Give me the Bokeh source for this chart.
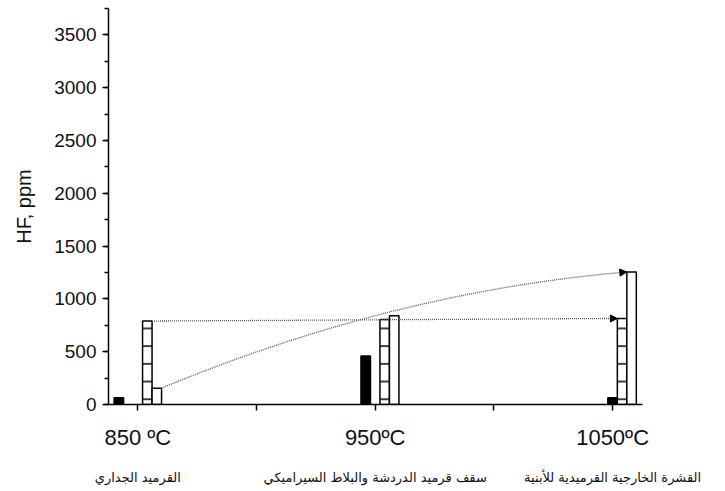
from bokeh.plotting import figure
from bokeh.models import Range1d, FixedTicker, SingleIntervalTicker, LinearAxis, Arrow, NormalHead
from bokeh.embed import file_html
from bokeh.resources import INLINE

# ---- data ----
temps = [850, 950, 1050]
temp_labels = ["850 ºC", "950ºC", "1050ºC"]
materials = ["القرميد الجداري",
             "سقف قرميد الدردشة والبلاط السيراميكي",
             "القشرة الخارجية القرميدية للأبنية"]
black_x = [842, 946, 1050]
black_vals = [65, 460, 65]
striped_vals = [790, 805, 815]
open_vals = [155, 840, 1255]

# ---- layout / style ----
BAR_W = 4.0
OFF_STRIPED = 4.0
OFF_OPEN = 8.0
TXT = "#111111"

p = figure(width=725, height=491, output_backend="svg", toolbar_location=None,
           x_range=Range1d(837.65, 1062.6), y_range=Range1d(0, 3750),
           min_border_left=108, min_border_right=83, min_border_top=8, min_border_bottom=87)
p.xaxis.visible = False
p.yaxis.visible = False
p.grid.visible = False
p.outline_line_color = None
p.background_fill_color = "white"
p.border_fill_color = "white"

# y axis
ya = p.yaxis[0]
ya.visible = True
ya.ticker = SingleIntervalTicker(interval=500, num_minor_ticks=2)
ya.axis_label = "HF, ppm"
ya.axis_label_text_font = "Liberation Sans"
ya.axis_label_text_font_style = "normal"
ya.axis_label_text_font_size = "20px"
ya.axis_label_text_color = TXT
ya.axis_label_standoff = 16
ya.major_label_text_font = "Liberation Sans"
ya.major_label_text_font_size = "19px"
ya.major_label_text_color = TXT
ya.major_label_standoff = 6
ya.axis_line_width = 1.5
ya.axis_line_color = "black"
ya.major_tick_line_width = 1.5
ya.minor_tick_line_width = 1.5
ya.major_tick_in = 0
ya.major_tick_out = 6
ya.minor_tick_in = 0
ya.minor_tick_out = 4

# x axis (temperatures)
xa = p.xaxis[0]
xa.visible = True
xticks = [850, 900, 950, 1000, 1050]
xa.ticker = FixedTicker(ticks=xticks, minor_ticks=[])
overrides = {t: "" for t in xticks}
for t, lab in zip(temps, temp_labels):
    overrides[t] = lab
xa.major_label_overrides = overrides
xa.major_label_text_font = "Liberation Sans"
xa.major_label_text_font_size = "22px"
xa.major_label_text_color = TXT
xa.major_label_standoff = 14
xa.axis_line_width = 1.5
xa.axis_line_color = "black"
xa.major_tick_line_width = 1.5
xa.major_tick_in = 0
xa.major_tick_out = 6

# second axis with Arabic material names
ma = LinearAxis(ticker=FixedTicker(ticks=temps, minor_ticks=[]))
ma.major_label_overrides = {t: m for t, m in zip(temps, materials)}
ma.major_label_text_font = "DejaVu Sans"
ma.major_label_text_font_size = "13px"
ma.major_label_text_color = TXT
ma.major_label_standoff = 11
ma.axis_line_color = None
ma.major_tick_line_color = None
ma.minor_tick_line_color = None
p.add_layout(ma, "below")

# bars
p.vbar(x=black_x, top=black_vals, bottom=0, width=BAR_W,
       fill_color="black", line_color="black", line_width=1.5)
p.vbar(x=[t + OFF_STRIPED for t in temps], top=striped_vals, bottom=0, width=BAR_W,
       fill_color="white", line_color="black", line_width=1.5,
       hatch_pattern="horizontal_line", hatch_scale=17.7, hatch_weight=1.5, hatch_color="black")
p.vbar(x=[t + OFF_OPEN for t in temps], top=open_vals, bottom=0, width=BAR_W,
       fill_color="white", line_color="black", line_width=1.5)

# dotted straight arrow: striped bar 850 -> striped bar 1050
xs0 = temps[0] + OFF_STRIPED + BAR_W / 2
ys0 = striped_vals[0]
xs1 = temps[2] + OFF_STRIPED - BAR_W / 2
ys1 = striped_vals[2]
p.add_layout(Arrow(x_start=xs0, y_start=ys0, x_end=xs1, y_end=ys1,
                   line_color="#555555", line_width=1.3, line_dash="1 1",
                   end=NormalHead(size=7, fill_color="black", line_color="black", line_width=1)))

# dotted curved arrow: open bar 850 -> open bar 1050
cx0 = temps[0] + OFF_OPEN + BAR_W / 2
cy0 = open_vals[0]
cx1 = temps[2] + OFF_OPEN - BAR_W / 2
cy1 = open_vals[2]
ccx = (cx0 + cx1) / 2
ccy = cy0 + 0.83 * (cy1 - cy0)
p.quadratic(x0=[cx0], y0=[cy0], x1=[cx1], y1=[cy1], cx=[ccx], cy=[ccy],
            line_color="#555555", line_width=1.3, line_dash="1 1")
t = 0.96
bx = (1 - t) ** 2 * cx0 + 2 * (1 - t) * t * ccx + t ** 2 * cx1
by = (1 - t) ** 2 * cy0 + 2 * (1 - t) * t * ccy + t ** 2 * cy1
p.add_layout(Arrow(x_start=bx, y_start=by, x_end=cx1, y_end=cy1, line_alpha=0,
                   end=NormalHead(size=7, fill_color="black", line_color="black", line_width=1)))

open("out.html", "w").write(file_html(p, INLINE))
